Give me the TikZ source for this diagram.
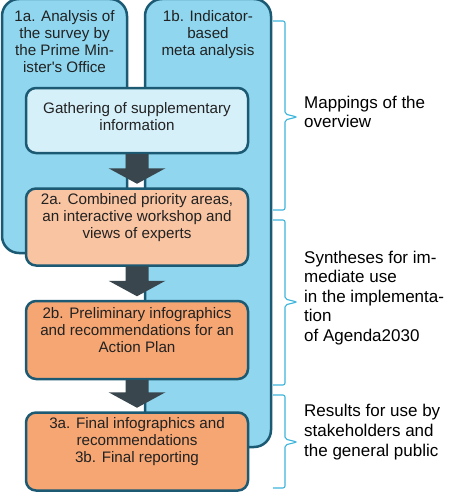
\documentclass[tikz,border=0pt]{standalone}
\usepackage{fontspec}
\setmainfont{Liberation Sans}
\usetikzlibrary{calc,positioning}

\definecolor{outerblue}{HTML}{8FD6EE}
\definecolor{edgeblue}{HTML}{1C5A74}
\definecolor{paleblue}{HTML}{D6F0FA}
\definecolor{lightorange}{HTML}{F9C4A2}
\definecolor{deeporange}{HTML}{F5A673}
\definecolor{arrowgray}{HTML}{3A464E}
\definecolor{bracecyan}{HTML}{3DB4DC}
\definecolor{textgray}{HTML}{222222}

% fat arrow from the bottom of one box to the top of the next
\newcommand{\blockarrow}[2]{%
  \fill[arrowgray] ($(#1.south)+(-11.5,-0.3)$) -- ($(#2.north)+(-11.5,-19)$)
    -- ($(#2.north)+(-28.5,-19)$) -- ($(#2.north)+(0,-3.5)$)
    -- ($(#2.north)+(28.5,-19)$) -- ($(#2.north)+(11.5,-19)$)
    -- ($(#1.south)+(11.5,-0.3)$) -- cycle;}

\begin{document}
\begin{tikzpicture}[x=1pt, y=-1pt, node distance=33pt]
        \tikzstyle{bigblock} = [rectangle, draw=edgeblue, line width=2.5pt,
        fill=outerblue, rounded corners=17pt]
        \tikzstyle{block} = [rectangle, draw=edgeblue, line width=2.5pt,
        rounded corners=10pt, minimum width=222pt]
        \tikzset{boxtext/.style={inner sep=0pt, align=center, text=textgray,
          font=\fontsize{15.2}{17}\selectfont}}
        \tikzset{sidetext/.style={inner sep=0pt, align=left, anchor=west,
          font=\fontsize{17}{19.6}\selectfont}}
        \tikzset{brace/.style={draw=bracecyan, line width=1.1pt, rounded corners=2pt}}

        \useasboundingbox (0,0) rectangle (474,495);

        \node [bigblock, minimum width=125pt, minimum height=254pt] (b1a) at (64.5,126) {};
        \node [bigblock, minimum width=126pt, minimum height=448pt] (b1b) at (208,223) {};
        \node [boxtext, anchor=north] (t1a) at ([yshift=-13pt]b1a.north)
          {1a. Analysis of\\the survey by\\the Prime Min-\\ister\textquotesingle s Office};
        \node [boxtext, anchor=north] (t1b) at ([yshift=-13pt]b1b.north)
          {1b. Indicator-\\based\\meta analysis};

        \node [block, fill=paleblue, minimum height=65pt] (gath) at (137,120.5) {};
        \node [block, fill=lightorange, minimum height=77pt, below=of gath] (b2a) {};
        \node [block, fill=deeporange, minimum height=78pt, below=of b2a] (b2b) {};
        \node [block, fill=deeporange, minimum height=78pt, below=31pt of b2b] (b3) {};

        \node [boxtext, yshift=3.5pt] (tg) at (gath) {Gathering of supplementary\\information};
        \node [boxtext, yshift=9.5pt] (t2a) at (b2a)
          {2a. Combined priority areas,\\an interactive workshop and\\views of experts};
        \node [boxtext, yshift=10pt] (t2b) at (b2b)
          {2b. Preliminary infographics\\and recommendations for an\\Action Plan};
        \node [boxtext, yshift=10pt] (t3) at (b3)
          {3a. Final infographics and\\recommendations\\3b. Final reporting};

        \blockarrow{gath}{b2a}
        \blockarrow{b2a}{b2b}
        \blockarrow{b2b}{b3}

        % braces on the right
        \draw [brace] (273,21) -- (285,21) -- (285,114) -- (297,117) -- (285,120) -- (285,210) -- (273,210);
        \draw [brace] (273,220) -- (285,220) -- (285,299) -- (297,302) -- (285,305) -- (285,385) -- (273,385);
        \draw [brace] (273,395) -- (285,395) -- (285,439) -- (297,442) -- (285,445) -- (285,488) -- (273,488);

        \node [sidetext] (m1) at (304,112) {Mappings of the\\overview};
        \node [sidetext] (m2) at (304,298)
          {Syntheses for im-\\mediate use\\in the implementa-\\tion\\of Agenda2030};
        \node [sidetext] (m3) at (304,432)
          {Results for use by\\stakeholders and\\the general public};

    \end{tikzpicture}
\end{document}
